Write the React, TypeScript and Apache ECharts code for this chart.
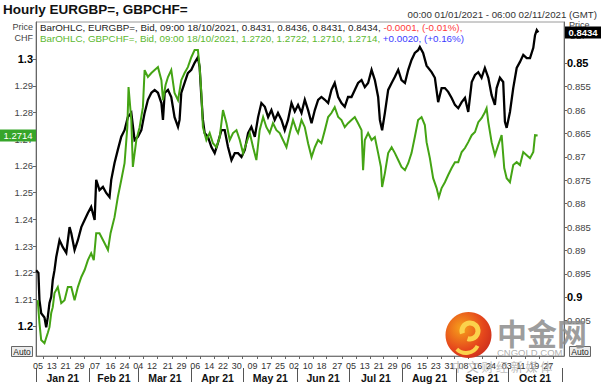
import React, { useEffect, useRef } from 'react';
import * as echarts from 'echarts';

// Days since 00:00 01/01/2021 (GMT) and hourly bid levels
const eurgbpDays = [0.1,1.4,2.0,3.0,4.9,5.9,6.8,7.8,8.8,9.7,10.7,11.7,13.6,15.5,17.5,19.4,20.4,22.3,24.2,26.2,28.1,30.0,31.9,33.9,34.8,36.7,38.7,40.6,42.5,43.5,45.4,47.3,49.3,51.2,53.1,55.1,57.0,58.9,60.9,62.8,64.7,66.7,68.6,70.5,72.5,73.4,74.4,76.3,78.2,80.1,82.1,83.0,84.0,85.9,87.8,89.8,91.7,93.6,94.6,95.6,96.5,97.5,99.4,101.4,103.3,105.2,107.2,109.1,111.0,113.0,114.9,116.8,118.8,120.7,122.6,124.5,126.5,128.4,130.3,132.3,134.2,136.1,138.0,139.9,141.9,143.8,145.7,147.7,149.6,151.5,153.5,155.4,157.3,159.3,161.2,163.1,165.0,167.0,168.9,170.8,172.7,174.7,176.6,178.5,180.4,182.4,184.3,186.2,188.2,190.1,192.0,194.0,195.9,197.8,198.8,200.1,201.7,203.6,205.6,207.5,209.4,211.3,213.3,215.2,217.1,219.0,220.9,221.9,223.8,225.8,228.7,230.6,232.5,234.5,236.4,238.3,240.3,242.2,244.1,246.1,248.0,249.9,251.9,253.8,255.7,257.6,259.5,261.5,263.4,265.3,266.3,268.2,270.1,271.1,272.1,274.0,275.9,277.9,279.8,281.7,283.7,285.6,287.5,288.5,289.5,290.4];
const eurgbpBid = [0.8942,0.8948,0.9006,0.9034,0.9043,0.9064,0.9043,0.9012,0.8999,0.8963,0.8942,0.8914,0.8878,0.8893,0.8905,0.8850,0.8863,0.8899,0.8878,0.8850,0.8835,0.8820,0.8807,0.8835,0.8749,0.8771,0.8764,0.8777,0.8786,0.8749,0.8713,0.8685,0.8657,0.8643,0.8615,0.8606,0.8664,0.8657,0.8643,0.8606,0.8578,0.8563,0.8557,0.8563,0.8585,0.8621,0.8563,0.8557,0.8572,0.8615,0.8636,0.8621,0.8563,0.8542,0.8521,0.8514,0.8499,0.8487,0.8508,0.8572,0.8621,0.8649,0.8657,0.8679,0.8692,0.8670,0.8643,0.8643,0.8679,0.8707,0.8692,0.8692,0.8700,0.8685,0.8649,0.8636,0.8657,0.8615,0.8585,0.8593,0.8615,0.8600,0.8621,0.8606,0.8621,0.8643,0.8621,0.8585,0.8603,0.8589,0.8606,0.8578,0.8600,0.8628,0.8600,0.8578,0.8572,0.8578,0.8585,0.8557,0.8542,0.8572,0.8585,0.8593,0.8572,0.8572,0.8557,0.8542,0.8536,0.8551,0.8542,0.8514,0.8536,0.8572,0.8621,0.8643,0.8606,0.8557,0.8542,0.8529,0.8514,0.8536,0.8542,0.8514,0.8493,0.8478,0.8472,0.8465,0.8478,0.8505,0.8519,0.8531,0.8583,0.8553,0.8553,0.8561,0.8574,0.8589,0.8596,0.8583,0.8574,0.8604,0.8540,0.8525,0.8519,0.8531,0.8510,0.8531,0.8568,0.8589,0.8553,0.8531,0.8540,0.8625,0.8638,0.8604,0.8553,0.8510,0.8497,0.8482,0.8489,0.8489,0.8467,0.8440,0.8429,0.8434];

const gbpchfDays = [1.0,2.0,3.0,4.9,6.8,7.8,8.8,9.7,10.7,12.6,14.6,16.5,18.4,20.4,22.3,24.2,26.2,28.1,30.0,31.9,33.4,34.8,36.7,39.6,41.6,43.1,45.4,47.3,49.3,51.2,52.8,53.5,55.1,56.0,58.0,59.9,61.8,62.8,64.7,66.7,68.6,70.5,72.5,73.4,74.9,76.3,78.2,80.1,82.1,84.0,85.9,87.8,89.8,91.7,93.6,94.6,95.6,96.5,98.5,100.4,102.3,104.3,106.2,108.1,110.1,112.0,113.9,115.9,117.8,119.7,121.6,123.6,125.5,127.4,129.3,131.3,133.2,135.1,137.0,139.0,140.9,142.8,144.8,146.7,148.6,150.6,151.5,153.5,155.4,157.3,159.3,161.2,163.1,165.0,167.0,168.9,170.8,172.7,174.7,176.6,178.5,180.4,182.4,184.3,186.2,188.2,189.1,190.1,192.0,194.0,195.9,197.8,199.4,200.1,201.7,203.6,205.6,207.5,209.4,211.3,213.3,215.2,217.1,219.0,220.9,222.9,224.8,225.8,227.7,229.6,231.6,232.9,234.5,236.4,238.3,240.3,242.2,244.1,246.1,248.0,249.9,251.9,253.8,255.7,257.6,259.5,260.5,261.5,263.4,265.3,267.2,269.2,270.7,272.1,274.0,275.9,277.9,279.8,281.7,283.7,285.6,287.5,288.5,290.0];
const gbpchfBid = [1.2097,1.2011,1.1948,1.1936,1.1974,1.1996,1.2049,1.2071,1.2124,1.2146,1.2086,1.2097,1.2146,1.2146,1.2097,1.2146,1.2184,1.2210,1.2247,1.2273,1.2247,1.2348,1.2348,1.2311,1.2285,1.2348,1.2408,1.2483,1.2547,1.2610,1.2745,1.2895,1.2772,1.2596,1.2697,1.2745,1.2820,1.2959,1.2933,1.2948,1.2959,1.2970,1.2921,1.2846,1.2903,1.2933,1.2959,1.2873,1.2846,1.2921,1.2948,1.2970,1.3007,1.3034,1.3034,1.2970,1.2873,1.2745,1.2697,1.2723,1.2685,1.2670,1.2708,1.2809,1.2760,1.2697,1.2723,1.2734,1.2697,1.2648,1.2685,1.2723,1.2670,1.2622,1.2734,1.2783,1.2745,1.2723,1.2760,1.2734,1.2723,1.2697,1.2670,1.2723,1.2772,1.2734,1.2723,1.2772,1.2745,1.2685,1.2633,1.2670,1.2697,1.2685,1.2734,1.2783,1.2798,1.2820,1.2783,1.2772,1.2745,1.2760,1.2772,1.2783,1.2760,1.2734,1.2584,1.2697,1.2723,1.2697,1.2708,1.2648,1.2596,1.2521,1.2573,1.2648,1.2670,1.2648,1.2622,1.2596,1.2584,1.2610,1.2648,1.2708,1.2772,1.2783,1.2753,1.2689,1.2629,1.2554,1.2517,1.2483,1.2517,1.2539,1.2566,1.2592,1.2614,1.2614,1.2652,1.2667,1.2689,1.2715,1.2727,1.2764,1.2779,1.2801,1.2816,1.2764,1.2689,1.2640,1.2678,1.2715,1.2592,1.2554,1.2539,1.2603,1.2614,1.2603,1.2652,1.2640,1.2629,1.2652,1.2715,1.2714];

const gbpchfTicks = ['1.2','1.21','1.22','1.23','1.24','1.25','1.26','1.27','1.28','1.29','1.3'];
const eurgbpTicks = ['0.85','0.855','0.86','0.865','0.87','0.875','0.88','0.885','0.89','0.895','0.9','0.905'];
const boldTicks = ['1.2','1.3','0.85','0.9'];
const dayTickDates = ['2021-01-05','2021-01-13','2021-01-21','2021-01-29','2021-02-07','2021-02-16','2021-02-24','2021-03-04','2021-03-12','2021-03-21','2021-03-29','2021-04-06','2021-04-14','2021-04-22','2021-04-30','2021-05-09','2021-05-17','2021-05-25','2021-06-02','2021-06-10','2021-06-18','2021-06-27','2021-07-05','2021-07-13','2021-07-21','2021-07-29','2021-08-06','2021-08-15','2021-08-23','2021-08-31','2021-09-08','2021-09-16','2021-09-24','2021-10-03','2021-10-11','2021-10-19','2021-10-27'];
const monthStarts = ['2021-01-01','2021-02-01','2021-03-01','2021-04-01','2021-05-01','2021-06-01','2021-07-01','2021-08-01','2021-09-01','2021-10-01','2021-11-01'];
const monthLabels = ['Jan 21','Feb 21','Mar 21','Apr 21','May 21','Jun 21','Jul 21','Aug 21','Sep 21','Oct 21'];

const titleText = 'Hourly EURGBP=, GBPCHF=';
const rangeText = '00:00 01/01/2021 - 06:00 02/11/2021 (GMT)';
const legendEurMain = 'BarOHLC, EURGBP=, Bid, 09:00 18/10/2021, 0.8431, 0.8436, 0.8431, 0.8434, ';
const legendEurChange = '-0.0001, (-0.01%),';
const legendChfMain = 'BarOHLC, GBPCHF=, Bid, 09:00 18/10/2021, 1.2720, 1.2722, 1.2710, 1.2714, ';
const legendChfChange = '+0.0020, (+0.16%)';

const FONT = '"Liberation Sans", Arial, sans-serif';
const DAY = 86400000;
const T0 = Date.UTC(2021, 0, 1);
const TEND = Date.UTC(2021, 10, 2, 6);
const ts = (s: string) => new Date(s + 'T00:00:00Z').getTime();

export default function App() {
  const ref = useRef<HTMLDivElement>(null);
  useEffect(() => {
    if (!ref.current) return;
    const chart = echarts.init(ref.current, null, { renderer: 'svg' });
    const eurData = eurgbpDays.map((d, i) => [T0 + d * DAY, eurgbpBid[i]]);
    const chfData = gbpchfDays.map((d, i) => [T0 + d * DAY, gbpchfBid[i]]);
    const dayTicks = dayTickDates.map(ts);
    const mStarts = monthStarts.map(ts);
    const mMids = monthLabels.map((_, i) => (mStarts[i] + mStarts[i + 1]) / 2);
    const fmt = (v: number) => {
      const s = String(+v.toFixed(4));
      return boldTicks.includes(s) ? `{b|${s}}` : s;
    };
    const yLabel = {
      fontFamily: FONT, fontSize: 9.5, color: '#444', margin: 3,
      rich: { b: { fontFamily: FONT, fontSize: 11, fontWeight: 'bold', color: '#000' } },
      formatter: fmt,
    };
    chart.setOption({
      animation: false,
      grid: { left: 36, right: 38, top: 22, bottom: 28, show: true, borderColor: '#9a9a9a', borderWidth: 1 },
      xAxis: [
        {
          type: 'value', min: T0, max: TEND, position: 'bottom',
          axisLine: { show: true, lineStyle: { color: '#777', width: 1 } },
          axisTick: { show: true, customValues: dayTicks, length: 3, lineStyle: { color: '#666' } },
          axisLabel: {
            customValues: dayTicks, fontFamily: FONT, fontSize: 9, color: '#333', margin: 5, align: 'right',
            formatter: (v: number) => String(new Date(v).getUTCDate()).padStart(2, '0'),
          },
          splitLine: { show: false },
        },
        {
          type: 'value', min: T0, max: TEND, position: 'bottom', offset: 12,
          axisLine: { show: false },
          axisTick: { show: true, customValues: mStarts, length: 14, lineStyle: { color: '#555' } },
          axisLabel: {
            customValues: mMids, fontFamily: FONT, fontSize: 10.5, fontWeight: 'bold', color: '#111', margin: 4,
            formatter: (v: number) => {
              const i = mMids.findIndex((m) => Math.abs(m - v) < 1000);
              return i >= 0 ? monthLabels[i] : '';
            },
          },
          splitLine: { show: false },
        },
      ],
      yAxis: [
        {
          type: 'value', position: 'left', min: 1.1888, max: 1.3139,
          axisLine: { show: true, lineStyle: { color: '#666' } },
          axisTick: { show: true, length: 3, customValues: gbpchfTicks.map(Number), lineStyle: { color: '#666' } },
          axisLabel: { ...yLabel, customValues: gbpchfTicks.map(Number) },
          splitLine: { show: false },
        },
        {
          type: 'value', position: 'right', inverse: true, min: 0.84118, max: 0.91254,
          axisLine: { show: true, lineStyle: { color: '#666' } },
          axisTick: { show: true, length: 3, customValues: eurgbpTicks.map(Number), lineStyle: { color: '#666' } },
          axisLabel: { ...yLabel, customValues: eurgbpTicks.map(Number) },
          splitLine: { show: false },
        },
      ],
      series: [
        {
          type: 'line', name: 'EURGBP=', xAxisIndex: 0, yAxisIndex: 1, data: eurData,
          showSymbol: false, silent: true, lineStyle: { color: '#000', width: 2.3, join: 'miter' }, itemStyle: { color: '#000' }, z: 2,
        },
        {
          type: 'line', name: 'GBPCHF=', xAxisIndex: 0, yAxisIndex: 0, data: chfData,
          showSymbol: false, silent: true, lineStyle: { color: '#44a414', width: 2, join: 'miter' }, itemStyle: { color: '#44a414' }, z: 3,
        },
      ],
    });

    const lastChf = gbpchfBid[gbpchfBid.length - 1];
    const lastEur = eurgbpBid[eurgbpBid.length - 1];
    const yChf = chart.convertToPixel({ yAxisIndex: 0 }, lastChf) as number;
    const yEur = chart.convertToPixel({ yAxisIndex: 1 }, lastEur) as number;

    const small = { fontFamily: FONT, fontSize: 9, fill: '#444' };
    chart.setOption({
      graphic: [
        { type: 'text', left: 3, top: 2, style: { text: titleText, fontFamily: FONT, fontSize: 13.5, fontWeight: 'bold', fill: '#111' } },
        { type: 'text', right: 5, top: 9, style: { text: rangeText, fontFamily: FONT, fontSize: 9.7, fill: '#333' } },
        { type: 'text', x: 33, y: 21, style: { ...small, text: 'Price\nCHF', align: 'right', lineHeight: 11 } },
        { type: 'text', x: 569, y: 19, style: { ...small, text: 'Price\nGBP', align: 'left', lineHeight: 11 } },
        {
          type: 'text', x: 40, y: 21.5, z: 10,
          style: {
            text: `{k|${legendEurMain}}{r|${legendEurChange}}\n{g|${legendChfMain}}{bl|${legendChfChange}}`,
            fontFamily: FONT, fontSize: 9.8, lineHeight: 11.5,
            rich: {
              k: { fontFamily: FONT, fontSize: 9.8, fill: '#222', lineHeight: 11.5 },
              r: { fontFamily: FONT, fontSize: 9.8, fill: '#ff3b3b', lineHeight: 11.5 },
              g: { fontFamily: FONT, fontSize: 9.8, fill: '#5cb830', lineHeight: 11.5 },
              bl: { fontFamily: FONT, fontSize: 9.8, fill: '#3b3bff', lineHeight: 11.5 },
            },
          },
        },
        { type: 'rect', shape: { x: 0, y: yChf - 6, width: 36, height: 12 }, style: { fill: '#36a52a' }, z: 20 },
        { type: 'text', x: 18, y: yChf, z: 21, style: { text: lastChf.toFixed(4), fontFamily: FONT, fontSize: 9.5, fill: '#fff', align: 'center', verticalAlign: 'middle' } },
        { type: 'rect', shape: { x: 565, y: yEur - 6, width: 36, height: 12 }, style: { fill: '#000' }, z: 20 },
        { type: 'text', x: 583, y: yEur, z: 21, style: { text: lastEur.toFixed(4), fontFamily: FONT, fontSize: 9.5, fontWeight: 'bold', fill: '#fff', align: 'center', verticalAlign: 'middle' } },
        { type: 'rect', shape: { x: 11.5, y: 346.5, width: 21, height: 10 }, style: { fill: '#ececec', stroke: '#666', lineWidth: 1 }, z: 20 },
        { type: 'text', x: 22, y: 351.5, z: 21, style: { text: 'Auto', fontFamily: FONT, fontSize: 8.5, fill: '#222', align: 'center', verticalAlign: 'middle' } },
        { type: 'rect', shape: { x: 569.5, y: 346.5, width: 21, height: 10 }, style: { fill: '#ececec', stroke: '#666', lineWidth: 1 }, z: 20 },
        { type: 'text', x: 580, y: 351.5, z: 21, style: { text: 'Auto', fontFamily: FONT, fontSize: 8.5, fill: '#222', align: 'center', verticalAlign: 'middle' } },
        {
          type: 'circle', shape: { cx: 468.5, cy: 335, r: 23 }, z: 30,
          style: {
            fill: new echarts.graphic.RadialGradient(0.35, 0.35, 0.8, [
              { offset: 0, color: '#f7a21b' },
              { offset: 0.6, color: '#e5471c' },
              { offset: 1, color: '#c7281c' },
            ]),
          },
        },
        { type: 'arc', shape: { cx: 470, cy: 331, r: 8, startAngle: Math.PI * 0.9, endAngle: Math.PI * 2.6 }, style: { stroke: '#fbd24c', lineWidth: 5, fill: 'none' }, z: 31 },
        { type: 'arc', shape: { cx: 466, cy: 340, r: 13, startAngle: Math.PI * 0.15, endAngle: Math.PI * 0.75 }, style: { stroke: '#fbd24c', lineWidth: 4, fill: 'none' }, z: 31 },
        { type: 'text', x: 497, y: 317, z: 30, style: { text: '中金网', fontFamily: '"Noto Sans CJK SC", sans-serif', fontSize: 30, fontWeight: 'bold', fill: 'rgba(140,140,140,0.85)' } },
        { type: 'text', x: 497, y: 347, z: 30, style: { text: 'CNGOLD.COM', fontFamily: FONT, fontSize: 9.5, fill: 'rgba(160,160,160,0.85)' } },
        { type: 'text', x: 452, y: 360, z: 30, style: { text: '中 文 财 经 新 媒 体', fontFamily: '"Noto Sans CJK SC", sans-serif', fontSize: 12, fill: 'rgba(170,170,170,0.8)' } },
      ],
    });
    return () => chart.dispose();
  }, []);
  return <div ref={ref} style={{ position: 'absolute', left: 0, top: 0, width: 602, height: 384 }} />;
}
